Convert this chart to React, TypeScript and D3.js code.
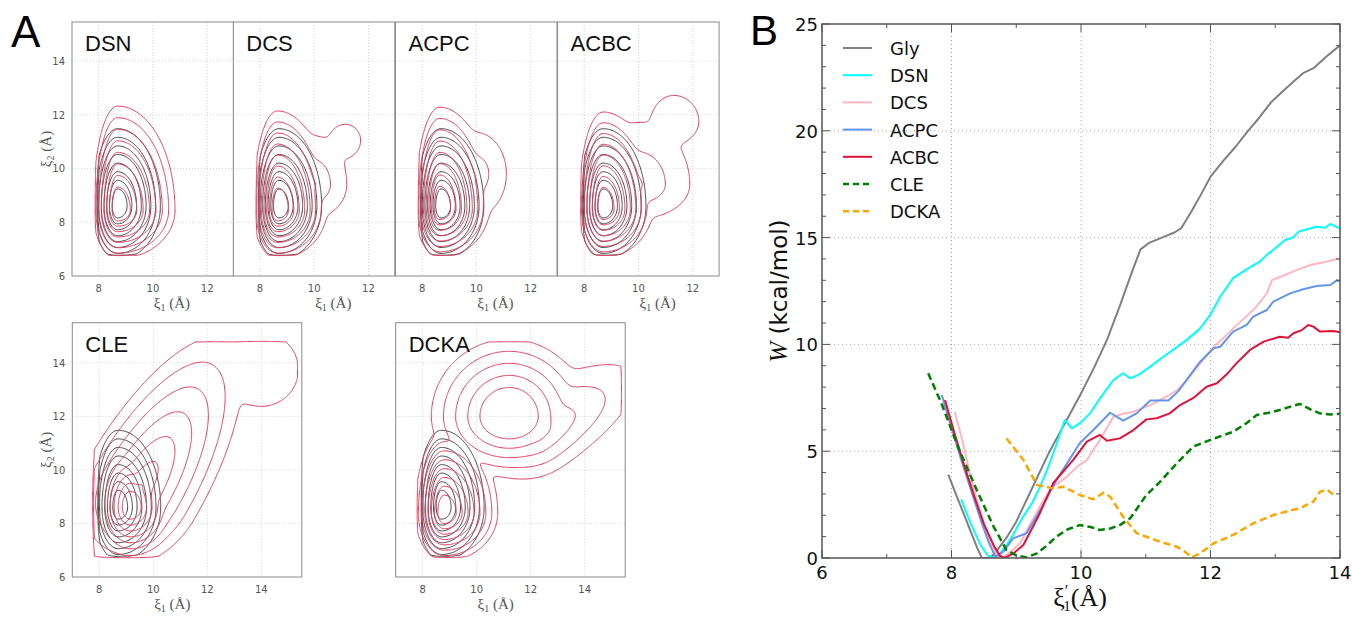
import React, { useMemo } from 'react';
import * as d3 from 'd3';

type Pt = [number, number];
type Basin = { cx: number; cy: number; xl: number; xr: number; yd: number; yu: number; off: number; rot?: number; flat?: number };
type Walls = { xl?: number; yd?: number; xr?: number; yt?: number };

// ---------------- Panel B data (xi1' in Å, W in kcal/mol) ----------------
const B_NAMES = ['Gly', 'DSN', 'DCS', 'ACPC', 'ACBC', 'CLE', 'DCKA'];
const GLY: Pt[] = [[7.95,3.9],[8.1,2.75],[8.25,1.6],[8.4,0.45],[8.47,0],[8.6,0],[8.7,0.35],[8.85,0.95],[9.0,1.7],[9.25,3.3],[9.5,4.9],[9.75,6.3],[10.0,7.7],[10.2,8.9],[10.4,10.2],[10.6,11.8],[10.8,13.5],[10.92,14.45],[11.05,14.75],[11.25,15.0],[11.45,15.25],[11.55,15.45],[11.7,16.2],[11.85,17.0],[12.0,17.85],[12.2,18.6],[12.4,19.3],[12.58,20.0],[12.75,20.6],[12.94,21.35],[13.1,21.8],[13.3,22.35],[13.43,22.7],[13.6,22.95],[13.8,23.5],[14.0,24.0]];
const DSN: Pt[] = [[8.15,2.75],[8.3,1.6],[8.45,0.6],[8.55,0.15],[8.63,0],[8.75,0.2],[8.85,0.6],[8.95,1.08],[9.1,1.9],[9.25,2.6],[9.37,3.34],[9.5,4.3],[9.62,5.3],[9.75,6.46],[9.86,6.07],[10.0,6.35],[10.14,6.77],[10.3,7.5],[10.5,8.33],[10.65,8.65],[10.76,8.41],[10.9,8.6],[11.07,8.96],[11.27,9.42],[11.45,9.8],[11.63,10.2],[11.84,10.75],[12.0,11.4],[12.15,12.23],[12.35,13.1],[12.55,13.5],[12.76,13.87],[12.87,14.19],[13.0,14.5],[13.15,14.89],[13.28,15.01],[13.36,15.28],[13.5,15.4],[13.64,15.51],[13.77,15.46],[13.85,15.64],[14.0,15.42]];
const DCS: Pt[] = [[8.05,6.85],[8.16,5.6],[8.29,3.9],[8.4,2.6],[8.5,1.6],[8.6,0.75],[8.72,0.05],[8.8,0.05],[8.9,0.25],[9.06,0.69],[9.2,1.5],[9.4,2.6],[9.57,3.34],[9.78,3.8],[9.95,4.3],[10.09,4.59],[10.29,5.52],[10.5,6.61],[10.65,6.75],[10.81,6.85],[11.07,7.16],[11.32,7.55],[11.5,7.9],[11.63,8.33],[11.84,9.1],[12.05,9.89],[12.2,10.3],[12.35,10.75],[12.55,11.3],[12.71,11.77],[12.87,12.39],[12.95,13.01],[13.15,13.25],[13.33,13.48],[13.54,13.72],[13.75,13.85],[14.0,14.03]];
const ACPC: Pt[] = [[7.85,7.63],[8.0,6.1],[8.15,4.6],[8.3,3.2],[8.45,1.8],[8.58,0.7],[8.68,0.05],[8.8,0.3],[8.95,0.92],[9.16,1.16],[9.4,2.4],[9.62,3.65],[9.8,4.5],[9.98,5.37],[10.19,5.99],[10.45,6.8],[10.65,6.43],[10.86,6.77],[11.07,7.37],[11.35,7.37],[11.5,7.8],[11.63,8.33],[11.84,9.19],[12.05,9.82],[12.15,9.89],[12.35,10.6],[12.56,10.91],[12.66,11.3],[12.87,11.61],[12.97,12.0],[13.23,12.39],[13.43,12.58],[13.64,12.73],[13.85,12.78],[13.95,13.0],[14.0,12.95]];
const ACBC: Pt[] = [[7.9,7.4],[8.05,5.8],[8.2,4.3],[8.35,2.9],[8.5,1.6],[8.65,0.6],[8.75,0.1],[8.82,0],[8.95,0.2],[9.11,0.61],[9.35,2.0],[9.57,3.5],[9.88,4.59],[10.09,5.45],[10.29,5.76],[10.4,5.49],[10.6,5.6],[10.81,5.99],[11.01,6.49],[11.17,6.54],[11.37,6.77],[11.53,7.16],[11.73,7.48],[11.94,8.02],[12.1,8.18],[12.25,8.6],[12.4,9.11],[12.61,9.74],[12.82,10.13],[13.07,10.36],[13.2,10.31],[13.28,10.52],[13.41,10.67],[13.51,10.91],[13.59,10.83],[13.69,10.6],[13.9,10.63],[14.0,10.57]];
const CLE: Pt[] = [[7.64,8.65],[7.85,7.2],[8.1,5.21],[8.39,3.18],[8.65,1.47],[8.85,0.37],[9.0,0.12],[9.16,0.03],[9.32,0.22],[9.48,0.6],[9.62,1.0],[9.8,1.35],[9.98,1.54],[10.15,1.45],[10.29,1.31],[10.45,1.38],[10.6,1.54],[10.76,1.86],[11.01,2.95],[11.2,3.5],[11.43,4.27],[11.6,4.8],[11.73,5.21],[11.99,5.52],[12.2,5.75],[12.35,5.91],[12.55,6.3],[12.71,6.69],[12.9,6.8],[13.07,6.93],[13.25,7.1],[13.38,7.21],[13.55,6.95],[13.69,6.77],[13.85,6.72],[14.0,6.75]];
const DCKA: Pt[] = [[8.85,5.6],[9.11,4.59],[9.32,3.42],[9.57,3.26],[9.73,3.34],[9.98,2.95],[10.19,2.75],[10.35,3.06],[10.45,2.87],[10.65,1.93],[10.86,1.16],[11.05,0.95],[11.22,0.76],[11.48,0.53],[11.6,0.3],[11.71,0.03],[11.84,0.22],[12.05,0.69],[12.35,1.08],[12.66,1.62],[12.97,2.01],[13.2,2.2],[13.38,2.33],[13.59,2.64],[13.69,3.1],[13.8,3.2],[13.94,2.86]];
const B_SERIES: Pt[][] = [GLY, DSN, DCS, ACPC, ACBC, CLE, DCKA];
const B_XTICKS = [6, 8, 10, 12, 14];
const B_YTICKS = [0, 5, 10, 15, 20, 25];

const A_TOP_NAMES = ['DSN', 'DCS', 'ACPC', 'ACBC'];
const A_BOTTOM_NAMES = ['CLE', 'DCKA'];
const A_LEVELS = [2, 3, 4, 5, 6, 7, 8, 9];
const A_TOP_XTICKS = [8, 10, 12];
const A_BOTTOM_XTICKS = [8, 10, 12, 14];
const A_YTICKS = [6, 8, 10, 12, 14];

const REF_BASINS: Basin[] = [{ cx: 8.7, cy: 8.6, xl: 0.1, xr: 0.175, yd: 0.22, yu: 0.32, off: 0 }];
const REF_WALLS: Walls = { xl: 8.0, yd: 6.8 };

const DSN_BASINS: Basin[] = [{ cx: 8.7, cy: 8.45, xl: 0.1, xr: 0.235, yd: 0.2, yu: 0.43, off: 0 }];
const DCS_BASINS: Basin[] = [
  { cx: 8.65, cy: 8.45, xl: 0.1, xr: 0.2, yd: 0.2, yu: 0.41, off: 0 },
  { cx: 10.0, cy: 9.4, xl: 0.5, xr: 0.6, yd: 0.6, yu: 0.9, off: 7.0 },
  { cx: 11.15, cy: 11.05, xl: 0.4, xr: 0.4, yd: 0.45, yu: 0.42, off: 8.6, flat: 1.0 },
];
const ACPC_BASINS: Basin[] = [
  { cx: 8.65, cy: 8.5, xl: 0.1, xr: 0.2, yd: 0.2, yu: 0.42, off: 0 },
  { cx: 10.0, cy: 9.8, xl: 0.5, xr: 0.65, yd: 0.9, yu: 0.9, off: 7.3 },
];
const ACBC_BASINS: Basin[] = [
  { cx: 8.7, cy: 8.5, xl: 0.1, xr: 0.2, yd: 0.2, yu: 0.4, off: 0 },
  { cx: 10.0, cy: 9.4, xl: 0.5, xr: 0.9, yd: 0.6, yu: 1.1, off: 6.9 },
  { cx: 11.3, cy: 11.75, xl: 0.35, xr: 0.4, yd: 0.35, yu: 0.42, off: 8.2, flat: 1.5 },
];
const CLE_BASINS: Basin[] = [
  { cx: 9.15, cy: 8.6, xl: 0.15, xr: 0.2, yd: 0.22, yu: 0.3, off: 0 },
  { cx: 9.5, cy: 9.3, xl: 0.5, xr: 1.05, yd: 0.38, yu: 0.36, off: 2.9, rot: 60 },
  { cx: 14.0, cy: 13.75, xl: 0.55, xr: 0.55, yd: 0.55, yu: 0.55, off: 8.3, flat: 1.8 },
];
const DCKA_BASINS: Basin[] = [
  { cx: 8.8, cy: 8.4, xl: 0.12, xr: 0.22, yd: 0.2, yu: 0.33, off: 0 },
  { cx: 11.2, cy: 12.0, xl: 0.45, xr: 0.45, yd: 0.35, yu: 0.45, off: 4.6, flat: 2.0 },
  { cx: 12.3, cy: 11.3, xl: 0.6, xr: 1.3, yd: 0.45, yu: 0.5, off: 5.8, rot: 33 },
];
const TOP_WALLS: Walls = { xl: 7.9, yd: 6.78 };
const BOTTOM_WALLS: Walls = { xl: 7.82, yd: 6.75, xr: 15.35, yt: 14.78 };
const A_BASINS: Record<string, Basin[]> = {
  DSN: DSN_BASINS, DCS: DCS_BASINS, ACPC: ACPC_BASINS, ACBC: ACBC_BASINS, CLE: CLE_BASINS, DCKA: DCKA_BASINS,
};

// ---------------- styles & layout ----------------
const CURVE_STYLE: Record<string, { color: string; width: number; dash?: string }> = {
  Gly: { color: '#808080', width: 2 },
  DSN: { color: '#00ffff', width: 2 },
  DCS: { color: '#ffb6c1', width: 2 },
  ACPC: { color: '#6495ed', width: 2 },
  ACBC: { color: '#dc143c', width: 2 },
  CLE: { color: '#008000', width: 2.5, dash: '7,4' },
  DCKA: { color: '#ffa500', width: 2.5, dash: '7,4' },
};
const RED = '#e23a5e';
const DARK = '#333333';

const GRID = { x0: 6.9, y0: 5.9, step: 0.04, nx: 222, ny: 245 };

function energy(basins: Basin[], walls: Walls, x: number, y: number) {
  const T = 0.3;
  const es = basins.map((b) => {
    let dx = x - b.cx;
    let dy = y - b.cy;
    if (b.rot) {
      const a = (b.rot * Math.PI) / 180;
      const c = Math.cos(a), s = Math.sin(a);
      const u = dx * c + dy * s;
      const v = -dx * s + dy * c;
      dx = u; dy = v;
    }
    const sx = dx < 0 ? b.xl : b.xr;
    const sy = dy < 0 ? b.yd : b.yu;
    const d = Math.hypot(dx / sx, dy / sy);
    return b.off + Math.max(0, d - (b.flat || 0));
  });
  const m = Math.min(...es);
  let sum = 0;
  for (const e of es) sum += Math.exp(-(e - m) / T);
  let f = m - T * Math.log(sum);
  const K = 25;
  if (walls.xl != null && x < walls.xl) f += K * (walls.xl - x);
  if (walls.yd != null && y < walls.yd) f += K * (walls.yd - y);
  if (walls.xr != null && x > walls.xr) f += K * (x - walls.xr);
  if (walls.yt != null && y > walls.yt) f += K * (y - walls.yt);
  return f;
}

function computeContours(basins: Basin[], walls: Walls) {
  const { x0, y0, step, nx, ny } = GRID;
  const vals: number[] = new Array(nx * ny);
  for (let j = 0; j < ny; j++) {
    for (let i = 0; i < nx; i++) {
      vals[j * nx + i] = -energy(basins, walls, x0 + i * step, y0 + j * step);
    }
  }
  return d3.contours().size([nx, ny]).thresholds(A_LEVELS.map((l) => -l))(vals);
}

function makePath(xs: d3.ScaleLinear<number, number>, ys: d3.ScaleLinear<number, number>) {
  const t = d3.geoTransform({
    point(px: number, py: number) {
      // @ts-ignore
      this.stream.point(xs(GRID.x0 + (px - 0.5) * GRID.step), ys(GRID.y0 + (py - 0.5) * GRID.step));
    },
  });
  return d3.geoPath(t as any);
}

const SANS = 'DejaVu Sans, sans-serif';
const ARIAL = 'Liberation Sans, Arial, sans-serif';
const SERIF = 'Liberation Serif, DejaVu Serif, serif';

type PanelSpec = {
  name: string; left: number; top: number; width: number; height: number;
  xdom: [number, number]; ydom: [number, number]; xticks: number[]; showY: boolean;
};

function ContourPanel({ spec, refC, redC }: { spec: PanelSpec; refC: any[]; redC: any[] }) {
  const { name, left, top, width, height, xdom, ydom, xticks, showY } = spec;
  const xs = d3.scaleLinear().domain(xdom).range([left, left + width]);
  const ys = d3.scaleLinear().domain(ydom).range([top + height, top]);
  const path = makePath(xs, ys);
  const clipId = `clip-${name}`;
  const bottom = top + height;
  return (
    <g>
      <defs>
        <clipPath id={clipId}>
          <rect x={left} y={top} width={width} height={height} />
        </clipPath>
      </defs>
      <rect x={left} y={top} width={width} height={height} fill="#fff" />
      {xticks.map((t) => (
        <line key={'gx' + t} x1={xs(t)} x2={xs(t)} y1={top} y2={bottom} stroke="#c8c8c8" strokeWidth={0.8} strokeDasharray="1,2" />
      ))}
      {A_YTICKS.filter((t) => t > ydom[0]).map((t) => (
        <line key={'gy' + t} x1={left} x2={left + width} y1={ys(t)} y2={ys(t)} stroke="#c8c8c8" strokeWidth={0.8} strokeDasharray="1,2" />
      ))}
      <g clipPath={`url(#${clipId})`} fill="none">
        {refC.map((c, i) => (
          <path key={'k' + i} d={path(c) || ''} stroke={DARK} strokeWidth={1} strokeOpacity={0.9} />
        ))}
        {redC.map((c, i) => (
          <path key={'r' + i} d={path(c) || ''} stroke={RED} strokeWidth={1} />
        ))}
      </g>
      <rect x={left} y={top} width={width} height={height} fill="none" stroke="#8a8a8a" strokeWidth={1} />
      <text x={left + 13} y={top + 29} fontFamily={ARIAL} fontSize={22} fill="#111">{name}</text>
      {xticks.map((t) => (
        <text key={'xt' + t} x={xs(t)} y={bottom + 16} textAnchor="middle" fontFamily={SANS} fontSize={10} fill="#555">{t}</text>
      ))}
      <text x={left + 100} y={bottom + 32} textAnchor="middle" fontFamily={SERIF} fontSize={15} fill="#555">
        ξ<tspan fontSize={10} dy={3}>1</tspan><tspan dy={-3}> (Å)</tspan>
      </text>
      {showY && A_YTICKS.map((t) => (
        <text key={'yt' + t} x={left - 7} y={ys(t) + 4} textAnchor="end" fontFamily={SANS} fontSize={10} fill="#555">{t}</text>
      ))}
      {showY && (
        <text transform={`translate(${left - 21},${top + height / 2}) rotate(-90)`} textAnchor="middle" fontFamily={SERIF} fontSize={15} fill="#555">
          ξ<tspan fontSize={10} dy={3}>2</tspan><tspan dy={-3}> (Å)</tspan>
        </text>
      )}
    </g>
  );
}

function PanelB() {
  const L = 822, R = 1340, T = 24, B = 558;
  const xs = d3.scaleLinear().domain([6, 14]).range([L, R]);
  const ys = d3.scaleLinear().domain([0, 25]).range([B, T]);
  const line = d3.line<Pt>().x((d) => xs(d[0])).y((d) => ys(d[1]));
  const minorY = ys.ticks(25);
  const minorX = xs.ticks(8);
  return (
    <g>
      <defs>
        <clipPath id="clipB"><rect x={L} y={T - 2} width={R - L} height={B - T + 2} /></clipPath>
      </defs>
      {B_XTICKS.slice(1, -1).map((t) => (
        <line key={'gx' + t} x1={xs(t)} x2={xs(t)} y1={T} y2={B} stroke="#aaa" strokeWidth={1} strokeDasharray="1,3" />
      ))}
      {B_YTICKS.slice(1, -1).map((t) => (
        <line key={'gy' + t} x1={L} x2={R} y1={ys(t)} y2={ys(t)} stroke="#aaa" strokeWidth={1} strokeDasharray="1,3" />
      ))}
      <g clipPath="url(#clipB)" fill="none">
        {B_SERIES.map((s, i) => {
          const st = CURVE_STYLE[B_NAMES[i]];
          return <path key={B_NAMES[i]} d={line(s) || ''} stroke={st.color} strokeWidth={st.width} strokeDasharray={st.dash} strokeLinejoin="round" />;
        })}
      </g>
      {minorY.map((t) => (
        <g key={'my' + t}>
          <line x1={L} x2={L + (t % 5 === 0 ? 8 : 4)} y1={ys(t)} y2={ys(t)} stroke="#555" strokeWidth={1} />
          <line x1={R} x2={R - (t % 5 === 0 ? 8 : 4)} y1={ys(t)} y2={ys(t)} stroke="#555" strokeWidth={1} />
        </g>
      ))}
      {minorX.map((t) => (
        <g key={'mx' + t}>
          <line x1={xs(t)} x2={xs(t)} y1={B} y2={B - (t % 2 === 0 ? 8 : 4)} stroke="#555" strokeWidth={1} />
          <line x1={xs(t)} x2={xs(t)} y1={T} y2={T + (t % 2 === 0 ? 8 : 4)} stroke="#555" strokeWidth={1} />
        </g>
      ))}
      <rect x={L} y={T} width={R - L} height={B - T} fill="none" stroke="#555" strokeWidth={1.5} />
      {B_YTICKS.map((t) => (
        <text key={'yl' + t} x={L - 4} y={ys(t) + 7} textAnchor="end" fontFamily={SANS} fontSize={18} fill="#111">{t}</text>
      ))}
      {B_XTICKS.map((t) => (
        <text key={'xl' + t} x={xs(t)} y={B + 21} textAnchor="middle" fontFamily={SANS} fontSize={18} fill="#111">{t}</text>
      ))}
      <text transform={`translate(787,${(T + B) / 2}) rotate(-90)`} textAnchor="middle" fontSize={23} fill="#111">
        <tspan fontFamily={SERIF} fontStyle="italic" fontSize={25}>W</tspan>
        <tspan fontFamily={SANS}> (kcal/mol)</tspan>
      </text>
      <text x={1080} y={606} textAnchor="middle" fontFamily={SERIF} fontSize={26} fill="#111">
        ξ<tspan fontSize={16} dy={-10}>′</tspan><tspan fontSize={15} dx={-5} dy={15}>1</tspan><tspan dy={-5}>(Å)</tspan>
      </text>
      {B_NAMES.map((n, i) => {
        const st = CURVE_STYLE[n];
        const y = 48 + i * 27.2;
        return (
          <g key={'lg' + n}>
            <line x1={843} x2={872} y1={y} y2={y} stroke={st.color} strokeWidth={st.width} strokeDasharray={st.dash ? '6,4' : undefined} />
            <text x={890} y={y + 7} fontFamily={SANS} fontSize={18} fill="#111">{n}</text>
          </g>
        );
      })}
    </g>
  );
}

export default function App() {
  const contours = useMemo(() => {
    const out: Record<string, any[]> = {};
    out.ref = computeContours(REF_BASINS, REF_WALLS);
    for (const n of A_TOP_NAMES) out[n] = computeContours(A_BASINS[n], TOP_WALLS);
    for (const n of A_BOTTOM_NAMES) out[n] = computeContours(A_BASINS[n], BOTTOM_WALLS);
    return out;
  }, []);

  const topLefts = [72, 233.3, 395.5, 557.6];
  const topSpecs: PanelSpec[] = A_TOP_NAMES.map((n, i) => ({
    name: n, left: topLefts[i], top: 22, width: 161.5, height: 254,
    xdom: [7.02, 12.97], ydom: [6, 15.45], xticks: A_TOP_XTICKS, showY: i === 0,
  }));
  const botLefts = [72.3, 395.7];
  const botSpecs: PanelSpec[] = A_BOTTOM_NAMES.map((n, i) => ({
    name: n, left: botLefts[i], top: 322.7, width: 229.5, height: 254.3,
    xdom: [7.0, 15.5], ydom: [6, 15.5], xticks: A_BOTTOM_XTICKS, showY: i === 0,
  }));

  return (
    <svg width={1352} height={620} style={{ position: 'absolute', left: 0, top: 0, display: 'block', background: '#fff' }}>
      <rect x={0} y={0} width={1352} height={620} fill="#fff" />
      {[...topSpecs, ...botSpecs].map((s) => (
        <ContourPanel key={s.name} spec={s} refC={contours.ref} redC={contours[s.name]} />
      ))}
      <text x={11} y={47} fontFamily={ARIAL} fontSize={44} fill="#000">A</text>
      <text x={750} y={45} fontFamily={ARIAL} fontSize={42} fill="#000">B</text>
      <PanelB />
    </svg>
  );
}
